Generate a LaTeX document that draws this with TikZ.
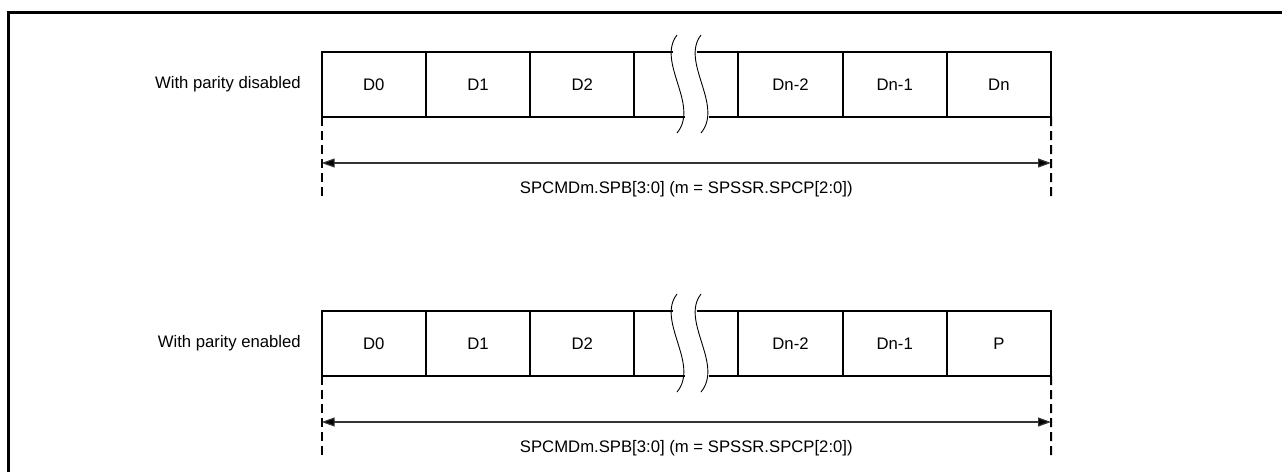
\documentclass[tikz,border=0pt]{standalone}
\usepackage{fontspec}
\setmainfont{Liberation Sans}
\usetikzlibrary{arrows.meta}
\begin{document}
\begin{tikzpicture}[x=1pt,y=-1pt,
  cell/.style={draw,line width=2pt,outer sep=0pt,minimum width=104.2pt,minimum height=65pt,inner sep=0pt,anchor=north west,font=\fontsize{16.7}{18}\selectfont},
  lbl/.style={font=\fontsize{16.7}{18}\selectfont,inner sep=0pt},
  guide/.style={line width=2pt,dash pattern=on 9pt off 5pt},
  span/.style={line width=1.2pt,draw=black!80,{Triangle[length=13pt,width=9pt,fill=black]}-{Triangle[length=13pt,width=9pt,fill=black]}},
  wave/.style={line width=0.9pt},
  edge/.style={line width=2pt}
]
\useasboundingbox (0,0) rectangle (1282,472);
\draw[line width=3pt] (8.5,472) -- (8.5,12.5) -- (1282,12.5);

\foreach \r/\oy/\last/\name in {a/0/Dn/With parity disabled, b/259/P/With parity enabled}{
  \begin{scope}[yshift=-\oy pt]
    \node[cell] (\r0) at (321.7,52) {D0};
    \node[cell] (\r1) at (425.9,52) {D1};
    \node[cell] (\r2) at (530.1,52) {D2};
    \node[cell] (\r4) at (738.4,52) {Dn-2};
    \node[cell] (\r5) at (842.6,52) {Dn-1};
    \node[cell] (\r6) at (946.8,52) {\last};
    \node[lbl,anchor=east] (\r L) at (301,84.5) {\name};
    % broken cell edges
    \coordinate (\r W1t) at (672.5,52);
    \coordinate (\r W1b) at (684.5,117);
    \coordinate (\r W2t) at (696.5,52);
    \coordinate (\r W2b) at (708.5,117);
    \draw[edge] (\r2.north east) -- (\r W1t);
    \draw[edge] (\r2.south east) -- (\r W1b);
    \draw[edge] (\r W2t) -- (\r4.north west);
    \draw[edge] (\r W2b) -- (\r4.south west);
    % break waves
    \draw[wave] (677,35) .. controls (656,62) and (700,105) .. (677,133);
    \draw[wave] (701,35) .. controls (680,62) and (724,105) .. (701,133);
    % dimension guides
    \coordinate (\r GL) at (321.7,198);
    \coordinate (\r GR) at (1051,198);
    \draw[guide] (\r0.south west) -- (\r GL);
    \draw[guide] (\r6.south east) -- (\r GR);
    \coordinate (\r AL) at (321.7,163);
    \coordinate (\r AR) at (1051,163);
    \draw[span] (\r AL) -- (\r AR);
    \node[lbl] (\r T) at (686.3,189) {SPCMDm.SPB[3:0] (m = SPSSR.SPCP[2:0])};
  \end{scope}
}
\end{tikzpicture}
\end{document}
